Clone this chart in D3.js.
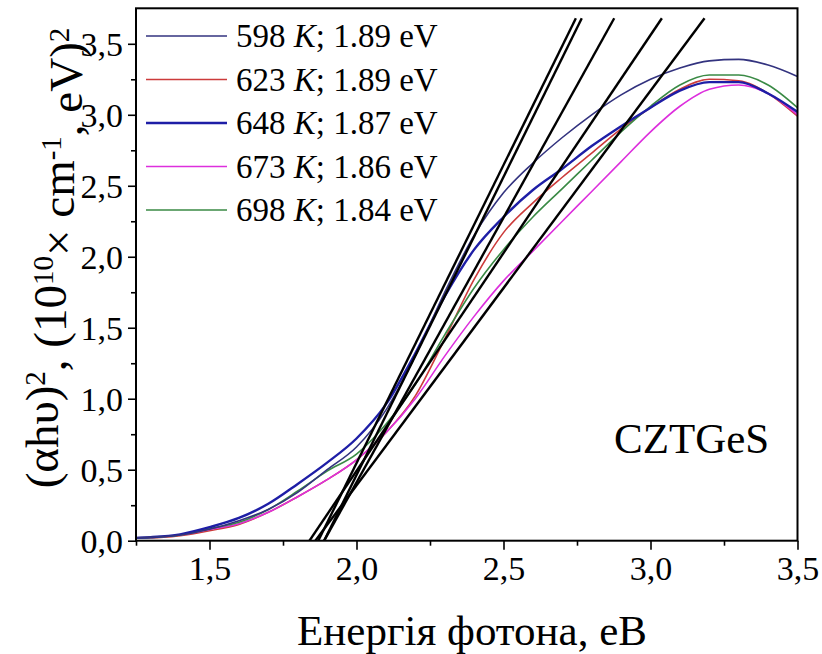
<!DOCTYPE html>
<html>
<head>
<meta charset="utf-8">
<script src="https://cdn.jsdelivr.net/npm/d3@7"></script>
<style>
  html, body { margin: 0; padding: 0; background: #fff; }
  svg { display: block; }
  text { font-family: "Liberation Serif", "Times New Roman", serif; fill: #000; }
</style>
</head>
<body>
<svg id="chart" width="822" height="654"></svg>
<script>
// ---------- data ----------
const energy = [1.25, 1.3, 1.4, 1.5, 1.6, 1.7, 1.8, 1.9, 2.0, 2.1, 2.2, 2.3, 2.4, 2.5, 2.6, 2.7, 2.8, 2.9, 3.0, 3.1, 3.2, 3.3, 3.4, 3.5];
const seriesTemps = ["598", "623", "648", "673", "698"];
const seriesGaps = ["1.89", "1.89", "1.87", "1.86", "1.84"];
const values598 = [0.02, 0.025, 0.04, 0.08, 0.14, 0.22, 0.34, 0.50, 0.66, 0.92, 1.30, 1.75, 2.15, 2.45, 2.66, 2.84, 3.00, 3.14, 3.25, 3.33, 3.38, 3.39, 3.35, 3.27];
const values623 = [0.02, 0.02, 0.035, 0.07, 0.115, 0.20, 0.31, 0.43, 0.57, 0.76, 1.02, 1.42, 1.84, 2.17, 2.38, 2.56, 2.73, 2.90, 3.05, 3.18, 3.25, 3.24, 3.15, 2.99];
const values648 = [0.02, 0.025, 0.045, 0.095, 0.16, 0.26, 0.40, 0.55, 0.72, 0.96, 1.32, 1.72, 2.05, 2.28, 2.47, 2.62, 2.78, 2.92, 3.05, 3.17, 3.23, 3.23, 3.15, 3.02];
const values673 = [0.02, 0.022, 0.04, 0.08, 0.12, 0.20, 0.31, 0.43, 0.57, 0.76, 1.00, 1.30, 1.58, 1.83, 2.04, 2.25, 2.46, 2.67, 2.88, 3.06, 3.18, 3.21, 3.15, 3.00];
const values698 = [0.02, 0.022, 0.04, 0.085, 0.13, 0.22, 0.35, 0.49, 0.61, 0.82, 1.10, 1.45, 1.78, 2.05, 2.28, 2.48, 2.68, 2.88, 3.06, 3.21, 3.28, 3.28, 3.21, 3.05];
const seriesColors = ["#33337f", "#cc3b3b", "#1e1ea6", "#dd2fdd", "#3a8a45"];
const seriesWidths = [1.6, 1.6, 2.4, 1.6, 1.6];
// tangent (Tauc) lines: x-intercept (eV) and slope
const tangentGap = [1.89, 1.89, 1.87, 1.86, 1.84];
const tangentSlope = [4.2, 3.73, 4.2, 2.78, 3.07];
const tangentTop = 3.68;
const xTicks = [1.5, 2.0, 2.5, 3.0, 3.5];
const xMinor = [1.25, 1.75, 2.25, 2.75, 3.25];
const yTicks = [0, 0.5, 1.0, 1.5, 2.0, 2.5, 3.0, 3.5];
const yMinor = [0.25, 0.75, 1.25, 1.75, 2.25, 2.75, 3.25];

// ---------- layout ----------
const svg = d3.select("#chart");
const L = 136, R = 797.5, T = 8.3, B = 540.7;
const x = d3.scaleLinear().domain([1.25, 3.5]).range([L, R]);
const y = d3.scaleLinear().domain([0, 3.75]).range([B, T]);
const fmt = d => d.toFixed(1).replace(".", ",");

const allValues = [values598, values623, values648, values673, values698];

svg.append("defs").append("clipPath").attr("id", "clip")
  .append("rect").attr("x", L).attr("y", T).attr("width", R - L).attr("height", B - T);

const plot = svg.append("g").attr("clip-path", "url(#clip)");

const line = d3.line().x(d => x(d[0])).y(d => y(d[1])).curve(d3.curveMonotoneX);

[1, 3, 4, 2, 0].forEach(i => {
  const pts = energy.map((e, k) => [e, allValues[i][k]]);
  plot.append("path").datum(pts)
    .attr("d", line)
    .attr("fill", "none")
    .attr("stroke", seriesColors[i])
    .attr("stroke-width", seriesWidths[i]);
});

tangentGap.forEach((g, i) => {
  const x2 = g + tangentTop / tangentSlope[i];
  plot.append("line")
    .attr("x1", x(g)).attr("y1", y(0))
    .attr("x2", x(x2)).attr("y2", y(tangentTop))
    .attr("stroke", "#000").attr("stroke-width", 2.4);
});

// axes
const axisFont = "34px";
const gx = svg.append("g").attr("transform", `translate(0,${B})`)
  .call(d3.axisBottom(x).tickValues(xTicks).tickFormat(fmt).tickSize(9).tickSizeOuter(0).tickPadding(6));
const gxm = svg.append("g").attr("transform", `translate(0,${B})`)
  .call(d3.axisBottom(x).tickValues(xMinor).tickFormat("").tickSize(5).tickSizeOuter(0));
const gy = svg.append("g").attr("transform", `translate(${L},0)`)
  .call(d3.axisLeft(y).tickValues(yTicks).tickFormat(fmt).tickSize(8).tickSizeOuter(0).tickPadding(5));
const gym = svg.append("g").attr("transform", `translate(${L},0)`)
  .call(d3.axisLeft(y).tickValues(yMinor).tickFormat("").tickSize(5).tickSizeOuter(0));
[gx, gxm, gy, gym].forEach(g => {
  g.select(".domain").remove();
  g.selectAll("line").attr("stroke", "#000").attr("stroke-width", 1.6);
  g.selectAll("text").style("font-size", axisFont)
    .style("font-family", '"Liberation Serif", "Times New Roman", serif').attr("fill", "#000");
});
gy.selectAll("text").attr("dy", "0.35em");

svg.append("rect").attr("x", L).attr("y", T).attr("width", R - L).attr("height", B - T)
  .attr("fill", "none").attr("stroke", "#000").attr("stroke-width", 2);

// legend
const leg = svg.append("g");
seriesTemps.forEach((n, i) => {
  const ly = 36 + i * 43.5;
  leg.append("line").attr("x1", 146).attr("x2", 227).attr("y1", ly).attr("y2", ly)
    .attr("stroke", seriesColors[i]).attr("stroke-width", seriesWidths[i]);
  const t = leg.append("text").attr("x", 236).attr("y", ly + 11).style("font-size", "33px");
  t.append("tspan").text(n + " ");
  t.append("tspan").style("font-style", "italic").text("K");
  t.append("tspan").text("; " + seriesGaps[i] + " eV");
});

svg.append("text").attr("x", 614).attr("y", 453).style("font-size", "43px").text("CZTGeS");

svg.append("text").attr("x", 472).attr("y", 645).attr("text-anchor", "middle")
  .style("font-size", "43px").text("Енергія фотона, еВ");

const yt = svg.append("text").attr("transform", "translate(58,258) rotate(-90)")
  .attr("text-anchor", "middle").style("font-size", "47px");
yt.append("tspan").text("(αhυ)");
yt.append("tspan").attr("dy", "-0.45em").style("font-size", "29px").text("2");
yt.append("tspan").attr("dy", "0.45em").text(", (10");
yt.append("tspan").attr("dy", "-0.45em").style("font-size", "29px").text("10");
yt.append("tspan").attr("dy", "0.45em").text("× cm");
yt.append("tspan").attr("dy", "-0.45em").style("font-size", "29px").text("-1");
yt.append("tspan").attr("dy", "0.45em").text(", eV)");
yt.append("tspan").attr("dy", "-0.45em").style("font-size", "29px").text("2");
</script>
</body>
</html>
